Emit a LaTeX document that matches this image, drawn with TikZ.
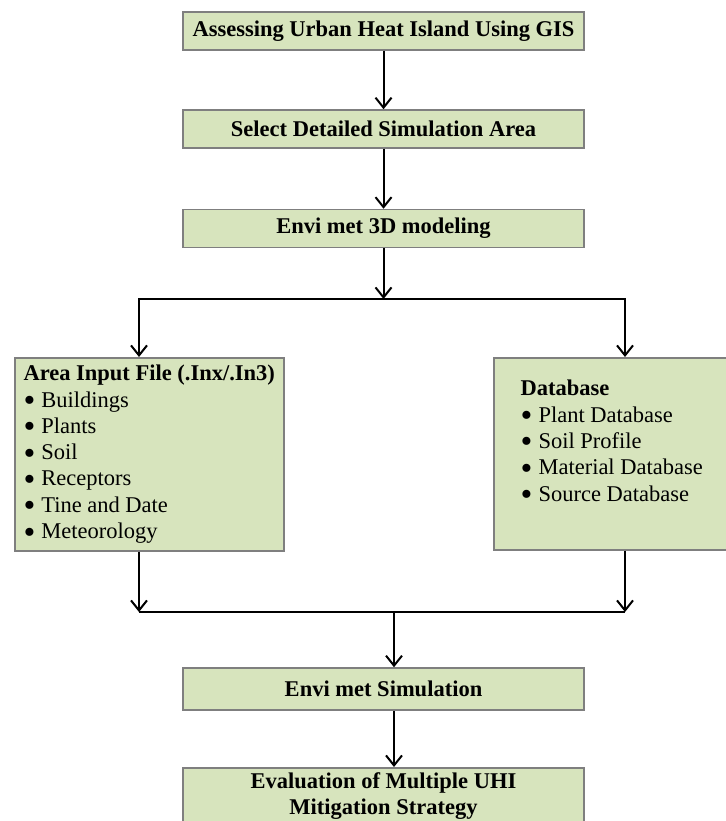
\documentclass[tikz,border=0pt]{standalone}
\usepackage{fontspec}
\setmainfont{Liberation Serif}
\usepackage{graphicx}
\usepackage{tikz}
\usetikzlibrary{arrows.meta,positioning}
\definecolor{boxgreen}{HTML}{D7E4BD}
\definecolor{boxline}{HTML}{7F7F7F}
\newcommand{\itm}{\raisebox{-0.2em}{\scalebox{1.5}{\textbullet}}\hspace{6pt}}

\begin{document}
\begin{tikzpicture}[x=1pt,y=-1pt,
		stage/.style={draw=boxline,line width=1.5pt,fill=boxgreen,minimum width=401pt,minimum height=38pt,inner sep=0pt,font=\bfseries\fontsize{22.5}{25.5}\selectfont},
		listbox/.style={draw=boxline,line width=1.5pt,fill=boxgreen,anchor=north west,align=left,inner sep=0pt,font=\fontsize{22.5}{26.3}\selectfont},
		arr/.style={line width=2pt,-{Straight Barb[length=10pt,width=16pt]}},
		link/.style={line width=2pt}]
			\useasboundingbox (0,0) rectangle (725,821);

			\node[stage] (gis) at (383.5,31) {Assessing Urban Heat Island Using GIS};
			\node[stage] (area) at (383.5,129) {Select Detailed Simulation Area};
			\node[stage] (model) at (383.5,228.5) {Envi met 3D modeling};
			\node[listbox,minimum width=269pt,minimum height=193pt] (inp) at (14,357) {\textbf{Area Input File (.Inx/.In3)}\\
				\itm Buildings\\ \itm Plants\\ \itm Soil\\ \itm Receptors\\ \itm Tine and Date\\ \itm Meteorology};
			\node[listbox,minimum width=236pt,minimum height=192pt] (db) at (493,357) {\textbf{Database}\\
				\itm Plant Database\\ \itm Soil Profile\\ \itm Material Database\\ \itm Source Database\\ \mbox{}};
			\node[stage,minimum height=42pt] (sim) at (383.5,689) {Envi met Simulation};
			\node[stage,anchor=north,minimum height=57pt,align=center] (eval) at (383.5,767) {Evaluation of Multiple UHI\\ Mitigation Strategy};

			\coordinate (split) at (383.5,299);
			\coordinate (lx) at (139,0);
			\coordinate (rx) at (625,0);
			\coordinate (join) at (394,612);

			\draw[arr] (gis) -- (area);
			\draw[arr] (area) -- (model);
			\draw[arr] (model) -- (split);
			\draw[arr] (split) -| (lx |- inp.north);
			\draw[arr] (split) -| (rx |- db.north);
			\draw[arr] (lx |- inp.south) -- (lx |- join);
			\draw[arr] (rx |- db.south) -- (rx |- join);
			\draw[link] (lx |- join) -- (rx |- join);
			\draw[arr] (join) -- (join |- sim.north);
			\draw[arr] (join |- sim.south) -- (join |- eval.north);
		\end{tikzpicture}
\end{document}
